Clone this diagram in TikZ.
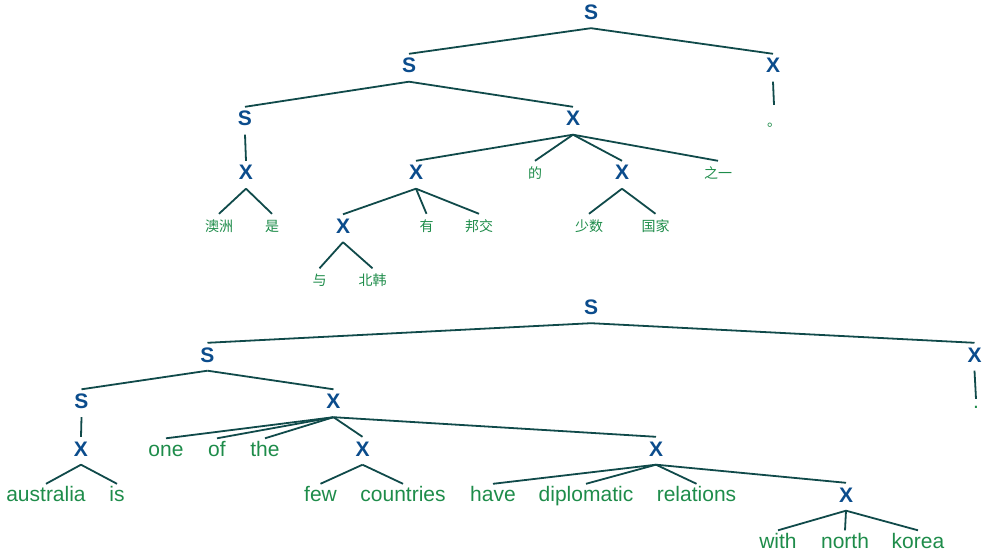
\documentclass[tikz,border=0pt]{standalone}
\usepackage{fontspec}
\setmainfont{Liberation Sans}
\newfontfamily\cjkfont{Noto Sans CJK SC}
\definecolor{ntblue}{HTML}{0B4C8C}
\definecolor{lfgreen}{HTML}{1E8C4A}
\definecolor{edgecol}{HTML}{104A4A}
\tikzset{
  nt/.style={font=\fontsize{21}{25}\selectfont\bfseries, text=ntblue, text height=15pt, text depth=4.5pt, inner ysep=4pt, inner xsep=0pt, anchor=base},
  lf/.style={font=\fontsize{21}{25}\selectfont, text=lfgreen, text height=15pt, text depth=0pt, inner ysep=2.5pt, inner xsep=0pt, anchor=base},
  zh/.style={font=\cjkfont\fontsize{14}{16}\selectfont, text=lfgreen, text height=13pt, text depth=0pt, inner ysep=4.5pt, inner xsep=0pt, anchor=base},
  br/.style={draw=edgecol, line width=1.8pt}
}
\begin{document}
\begin{tikzpicture}[x=1pt,y=-1pt]
\useasboundingbox (0,0) rectangle (983,556);
% ---------- top tree ----------
\node[nt] (a0) at (591,19.5) {S};
\node[nt] (a1) at (409,73) {S};
\node[nt] (a2) at (773,73) {X};
\node[zh, text height=17.5pt] (ap) at (774,127) {。};
\node[nt] (a3) at (245,126) {S};
\node[nt] (a4) at (573,126) {X};
\node[nt] (a5) at (246,180) {X};
\node[nt] (a6) at (416,180) {X};
\node[zh] (ade) at (535,178.5) {的};
\node[nt] (a7) at (622,180) {X};
\node[zh] (azy) at (718,178.5) {之一};
\node[zh] (aoz) at (219,231.5) {澳洲};
\node[zh] (ash) at (272,231.5) {是};
\node[nt] (a8) at (343,233.5) {X};
\node[zh] (ayo) at (426.5,231.5) {有};
\node[zh] (abj) at (479,231.5) {邦交};
\node[zh] (ass) at (589,231.5) {少数};
\node[zh] (agj) at (655.5,231.5) {国家};
\node[zh] (ayu) at (319.5,286) {与};
\node[zh] (abh) at (372.5,286) {北韩};
\draw[br] (a0.south) -- (a1.north);
\draw[br] (a0.south) -- (a2.north);
\draw[br] (a2.south) -- (ap.north);
\draw[br] (a1.south) -- (a3.north);
\draw[br] (a1.south) -- (a4.north);
\draw[br] (a3.south) -- (a5.north);
\draw[br] (a4.south) -- (a6.north);
\draw[br] (a4.south) -- (ade.north);
\draw[br] (a4.south) -- (a7.north);
\draw[br] (a4.south) -- (azy.north);
\draw[br] (a5.south) -- (aoz.north);
\draw[br] (a5.south) -- (ash.north);
\draw[br] (a6.south) -- (a8.north);
\draw[br] (a6.south) -- (ayo.north);
\draw[br] (a6.south) -- (abj.north);
\draw[br] (a7.south) -- (ass.north);
\draw[br] (a7.south) -- (agj.north);
\draw[br] (a8.south) -- (ayu.north);
\draw[br] (a8.south) -- (abh.north);
% ---------- bottom tree ----------
\node[nt] (b0) at (591,314.5) {S};
\node[nt] (b1) at (207.5,362) {S};
\node[nt] (b2) at (974.5,362) {X};
\node[lf, text height=6.5pt] (bp) at (976,408) {.};
\node[nt] (b3) at (81.5,408.5) {S};
\node[nt] (b4) at (333.5,408.5) {X};
\node[nt] (b5) at (81,456) {X};
\node[lf] (bone) at (166,456) {one};
\node[lf] (bof) at (217,456) {of};
\node[lf] (bthe) at (265,456) {the};
\node[nt] (b6) at (362.5,456) {X};
\node[nt] (b7) at (656,456) {X};
\node[lf] (baus) at (46,501.5) {australia};
\node[lf] (bis) at (117,501.5) {is};
\node[lf] (bfew) at (320.5,501.5) {few};
\node[lf] (bcou) at (403,501.5) {countries};
\node[lf] (bhav) at (493,501.5) {have};
\node[lf] (bdip) at (586,501.5) {diplomatic};
\node[lf] (brel) at (696.5,501.5) {relations};
\node[nt] (b8) at (846,502) {X};
\node[lf] (bwit) at (778,548) {with};
\node[lf] (bnor) at (845,548) {north};
\node[lf] (bkor) at (918,548) {korea};
\draw[br] (b0.south) -- (b1.north);
\draw[br] (b0.south) -- (b2.north);
\draw[br] (b2.south) -- (bp.north);
\draw[br] (b1.south) -- (b3.north);
\draw[br] (b1.south) -- (b4.north);
\draw[br] (b3.south) -- (b5.north);
\draw[br] (b4.south) -- (bone.north);
\draw[br] (b4.south) -- (bof.north);
\draw[br] (b4.south) -- (bthe.north);
\draw[br] (b4.south) -- (b6.north);
\draw[br] (b4.south) -- (b7.north);
\draw[br] (b5.south) -- (baus.north);
\draw[br] (b5.south) -- (bis.north);
\draw[br] (b6.south) -- (bfew.north);
\draw[br] (b6.south) -- (bcou.north);
\draw[br] (b7.south) -- (bhav.north);
\draw[br] (b7.south) -- (bdip.north);
\draw[br] (b7.south) -- (brel.north);
\draw[br] (b7.south) -- (b8.north);
\draw[br] (b8.south) -- (bwit.north);
\draw[br] (b8.south) -- (bnor.north);
\draw[br] (b8.south) -- (bkor.north);
\end{tikzpicture}
\end{document}
